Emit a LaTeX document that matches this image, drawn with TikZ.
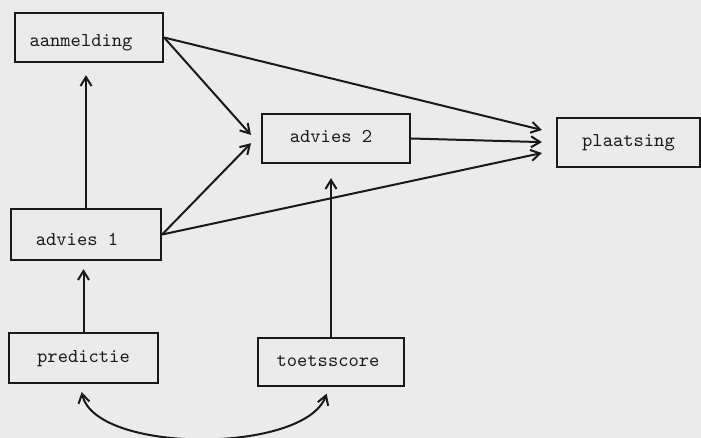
\documentclass[tikz,border=0pt]{standalone}
\usepackage{tikz}
\usetikzlibrary{arrows.meta,calc}

\definecolor{lijn}{rgb}{0.1,0.1,0.1}
\definecolor{papier}{rgb}{0.92,0.92,0.92}

\tikzset{
  blok/.style={draw=lijn, line width=1.1pt, minimum height=24.5pt, inner sep=0pt,
    text height=6pt, text depth=1.5pt,
    text=lijn, font=\ttfamily\fontsize{9.8}{11}\selectfont},
  pijl/.style={draw=lijn, line width=1pt, -{Straight Barb[length=4.5pt,width=5.5pt]}},
  tweepijl/.style={draw=lijn, line width=1pt,
    {Straight Barb[length=4.5pt,width=5.5pt]}-{Straight Barb[length=4.5pt,width=5.5pt]}},
}

\begin{document}
\begin{tikzpicture}[x=0.5pt,y=-0.5pt]
\useasboundingbox (0,0) rectangle (701,438);
\fill[papier] (0,0) rectangle (701,438);

% blokken
\node[blok, minimum width=74pt, text height=10pt, text depth=0.5pt] (aanm) at (89,37.5) {\hspace*{-8pt}aanmelding};
\node[blok, minimum width=75pt, minimum height=25.5pt, text height=12pt, text depth=0.5pt] (adv1) at (86,234.5) {\hspace*{-9pt}advies 1};
\node[blok, minimum width=74.5pt, minimum height=25pt] (pred) at (83.5,358) {predictie};
\node[blok, minimum width=74pt] (adv2) at (336,138.5) {\hspace*{-5pt}advies 2};
\node[blok, minimum width=73pt, minimum height=24pt] (toets) at (331,362) {\hspace*{-3pt}toetsscore};
\node[blok, minimum width=71.5pt] (plaats) at (628.5,142.5) {plaatsing};

% pijlen naar plaatsing
\draw[pijl, shorten >=7.2pt] (aanm.east) -- ($(plaats.west)+(0,-9.1)$);
\draw[pijl, shorten >=7pt] (adv2.east) -- (plaats.west);
\draw[pijl, shorten >=7.2pt] (adv1.east) -- ($(plaats.west)+(0,7.5)$);

% pijlen naar advies 2
\draw[pijl, shorten >=7.5pt] (aanm.east) -- ($(adv2.west)+(0,7.6)$);
\draw[pijl, shorten >=7.1pt] (adv1.east) -- ($(adv2.west)+(0,-5.5)$);
\draw[pijl, shorten >=7pt] (toets.north) -- (toets.north |- adv2.south);

% verticale pijlen links
\draw[pijl, shorten >=6pt] (adv1.north) -- (adv1.north |- aanm.south);
\draw[pijl, shorten >=4pt] (pred.north) -- (pred.north |- adv1.south);

% samenhang predictie en toetsscore
\draw[tweepijl, shorten <=4pt, shorten >=3.5pt] ($(pred.south)+(-3.5,0)$)
  .. controls +(15,70) and +(-24,67) .. ($(toets.south)+(-2,0)$);

\end{tikzpicture}
\end{document}
